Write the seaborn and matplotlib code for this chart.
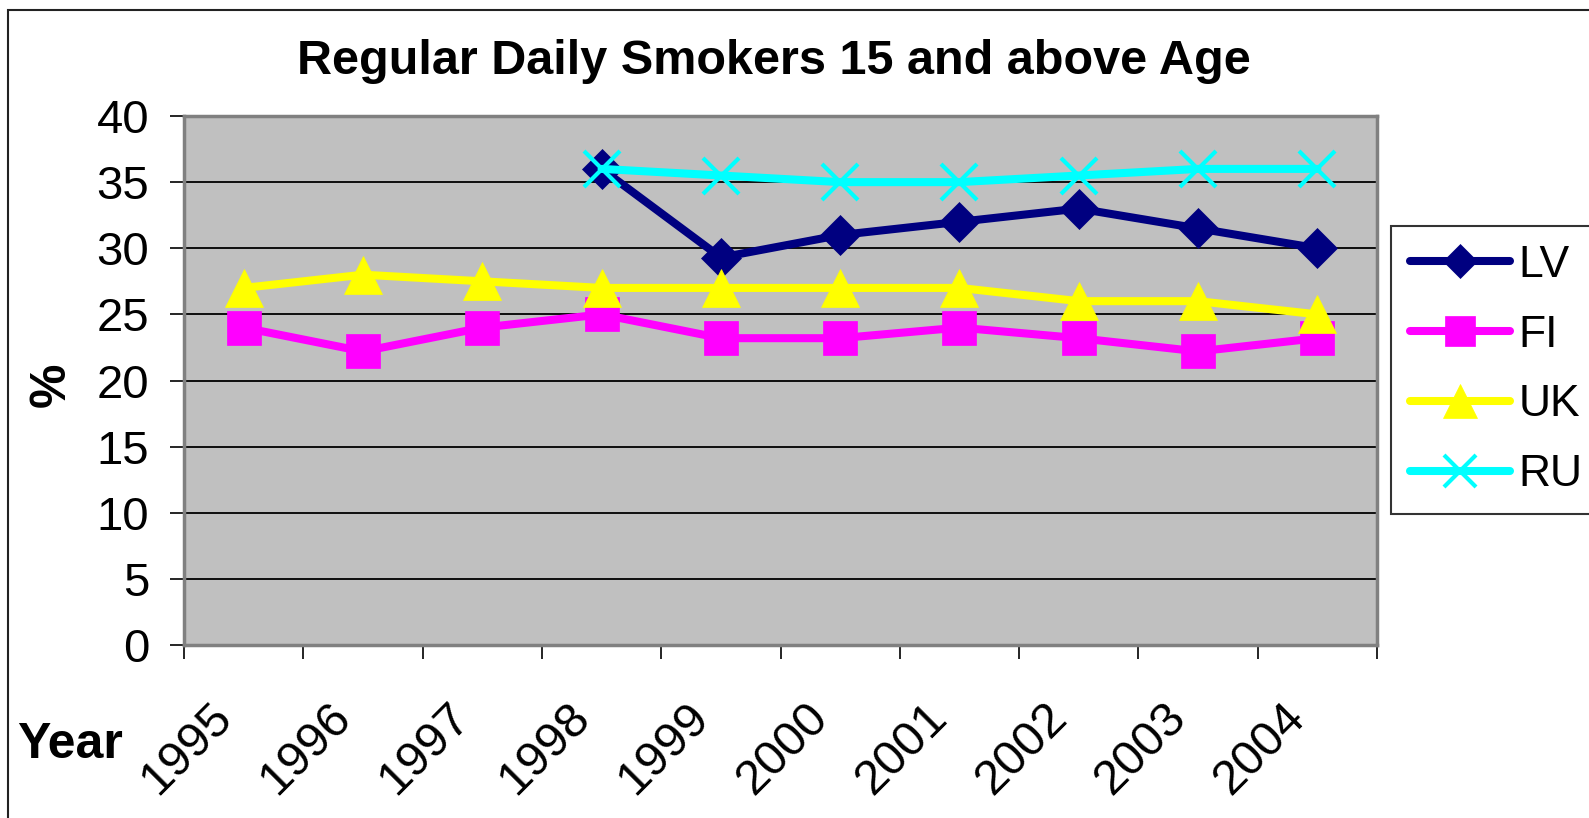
import numpy as np
import pandas as pd
import matplotlib
matplotlib.use("Agg")
import matplotlib.pyplot as plt
import matplotlib.transforms as mtransforms
from matplotlib.patches import Rectangle
import seaborn as sns

# --- data -------------------------------------------------------------
years = ["1995", "1996", "1997", "1998", "1999", "2000", "2001", "2002", "2003", "2004"]

lv_years = ["1998", "1999", "2000", "2001", "2002", "2003", "2004"]
lv_values = [36.0, 29.3, 31.0, 32.0, 33.0, 31.5, 30.0]

fi_years = years
fi_values = [24.0, 22.2, 24.0, 25.0, 23.2, 23.2, 24.0, 23.2, 22.2, 23.2]

uk_years = years
uk_values = [27.0, 28.0, 27.5, 27.0, 27.0, 27.0, 27.0, 26.0, 26.0, 25.0]

ru_years = ["1998", "1999", "2000", "2001", "2002", "2003", "2004"]
ru_values = [36.0, 35.5, 35.0, 35.0, 35.5, 36.0, 36.0]

y_ticks = [0, 5, 10, 15, 20, 25, 30, 35, 40]

series = [
    ("LV", lv_years, lv_values, "#000080", "D", 20.5),
    ("FI", fi_years, fi_values, "#FF00FF", "s", 25.0),
    ("UK", uk_years, uk_values, "#FFFF00", "^", 28.0),
    ("RU", ru_years, ru_values, "#00FFFF", "x", 26.5),
]

rows = []
for name, yrs, vals, *_ in series:
    for y, v in zip(yrs, vals):
        rows.append({"country": name, "pos": years.index(y), "value": v})
df = pd.DataFrame(rows)

# --- style ------------------------------------------------------------
sns.set_style("white")
plt.rcParams["font.family"] = ["Liberation Sans", "DejaVu Sans"]
plt.rcParams["text.color"] = "black"
plt.rcParams["axes.labelcolor"] = "black"
plt.rcParams["xtick.color"] = "black"
plt.rcParams["ytick.color"] = "black"

W, H = 1589, 818
fig = plt.figure(figsize=(W / 100, H / 100), dpi=100)
fig.patch.set_facecolor("white")

ax = fig.add_axes([184 / W, 1 - 645 / H, (1377 - 184) / W, (645 - 116) / H])
ax.set_facecolor("#C0C0C0")

for name, yrs, vals, color, marker, ms in series:
    sub = df[df["country"] == name]
    kw = dict(marker=marker, markersize=ms, color=color, linewidth=5.8,
              markeredgecolor=color, markerfacecolor=color, solid_capstyle="round")
    kw["markeredgewidth"] = 3.0 if marker == "x" else 0.5
    sns.lineplot(data=sub, x="pos", y="value", ax=ax, estimator=None, sort=False,
                 label=name, legend=False, zorder=3, **kw)

# axes limits and grid
ax.set_xlim(-0.5, len(years) - 0.5)
ax.set_ylim(0, 40)
ax.set_yticks(y_ticks)
for t in y_ticks[1:-1]:
    ax.axhline(t, color="black", linewidth=1.3, zorder=1)

# x: labels at category centres, tick marks on category boundaries
ax.set_xticks(np.arange(len(years)))
ax.set_xticklabels(years)
ax.set_xticks(np.arange(len(years) + 1) - 0.5, minor=True)
ax.tick_params(axis="x", which="major", length=0, pad=47, labelsize=35)
ax.tick_params(axis="x", which="minor", length=10, width=1.2, color="black",
               direction="out", bottom=True)
ax.tick_params(axis="y", which="major", length=10, width=1.2, color="black",
               direction="out", pad=15, labelsize=34, left=True)

shift = mtransforms.ScaledTranslation(-19 / 100, 0, fig.dpi_scale_trans)
for lab in ax.get_xticklabels():
    lab.set_rotation(45)
    lab.set_rotation_mode("anchor")
    lab.set_ha("right")
    lab.set_va("center")
    lab.set_transform(lab.get_transform() + shift)

ax.set_xlabel("")
ax.set_ylabel("")

for side in ["top", "right", "left", "bottom"]:
    ax.spines[side].set_visible(True)
    ax.spines[side].set_color("#808080")
    ax.spines[side].set_linewidth(2.5)

# legend
leg = ax.legend(loc="upper left", bbox_to_anchor=(1391 / W, 1 - 226 / H),
                bbox_transform=fig.transFigure, fontsize=32, frameon=True,
                fancybox=False, shadow=False, handlelength=2.25, handletextpad=0.2,
                labelspacing=0.65, borderpad=0.42, borderaxespad=0, markerscale=0.85)
leg.get_frame().set_edgecolor("black")
leg.get_frame().set_linewidth(1.5)
leg.get_frame().set_facecolor("white")

# texts
fig.text(774 / W, 1 - 62 / H, "Regular Daily Smokers 15 and above Age",
         ha="center", va="center", fontsize=35, fontweight="bold")
fig.text(52 / W, 1 - 385 / H, "%", rotation=90, ha="center", va="center",
         fontsize=36, fontweight="bold")
fig.text(17 / W, 1 - 745 / H, "Year", ha="left", va="center",
         fontsize=36, fontweight="bold")

# outer chart frame (extends past the right and bottom edges)
fig.patches.append(Rectangle((8 / W, -0.05), 1.2, 1 - 10 / H + 0.05,
                             transform=fig.transFigure, fill=False,
                             edgecolor="#222222", linewidth=1.5))

fig.savefig("out.png", dpi=100)
